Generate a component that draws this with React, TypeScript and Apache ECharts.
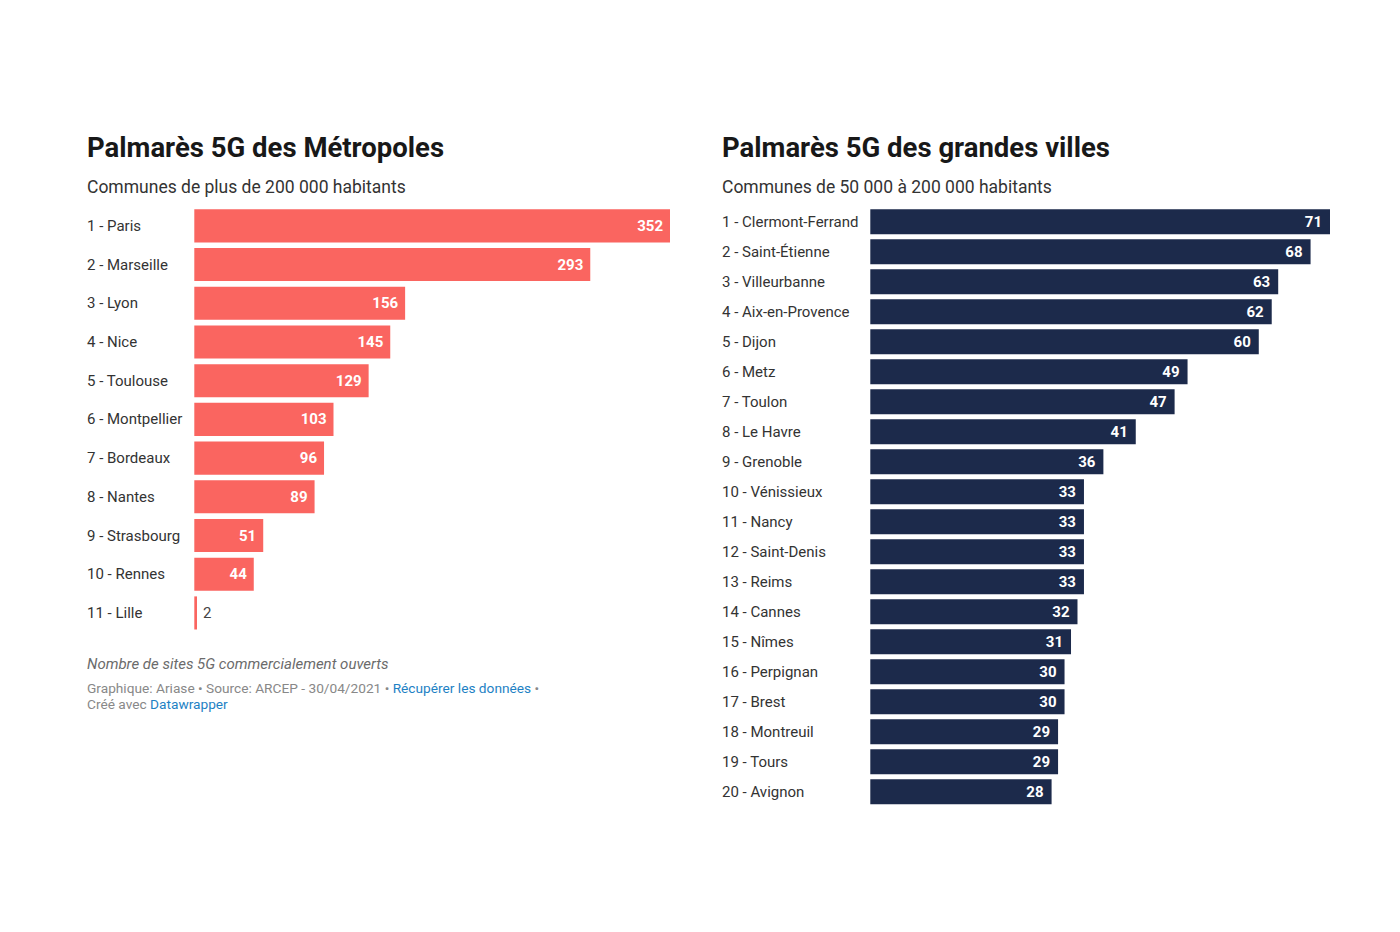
import React, { useEffect, useRef } from "react";
import * as echarts from "echarts";

const metroCities = ["1 - Paris", "2 - Marseille", "3 - Lyon", "4 - Nice", "5 - Toulouse", "6 - Montpellier", "7 - Bordeaux", "8 - Nantes", "9 - Strasbourg", "10 - Rennes", "11 - Lille"];
const metroValues = [352, 293, 156, 145, 129, 103, 96, 89, 51, 44, 2];

const villeCities = ["1 - Clermont-Ferrand", "2 - Saint-Étienne", "3 - Villeurbanne", "4 - Aix-en-Provence", "5 - Dijon", "6 - Metz", "7 - Toulon", "8 - Le Havre", "9 - Grenoble", "10 - Vénissieux", "11 - Nancy", "12 - Saint-Denis", "13 - Reims", "14 - Cannes", "15 - Nîmes", "16 - Perpignan", "17 - Brest", "18 - Montreuil", "19 - Tours", "20 - Avignon"];
const villeValues = [71, 68, 63, 62, 60, 49, 47, 41, 36, 33, 33, 33, 33, 32, 31, 30, 30, 29, 29, 28];

const FONT = "Roboto, 'Noto Sans', sans-serif";
const RED = "#fa6560";
const NAVY = "#1c2a4b";

function withLabels(values: number[], threshold: number) {
  return values.map((v) =>
    v < threshold
      ? { value: v, label: { position: "right", color: "#444", fontWeight: "normal", distance: 6 } }
      : { value: v }
  );
}

export default function App() {
  const ref = useRef<HTMLDivElement>(null);
  useEffect(() => {
    if (!ref.current) return;
    const chart = echarts.init(ref.current, null, { renderer: "svg" });
    const labelStyle = { fontFamily: FONT, fontSize: 15, color: "#333" };
    chart.setOption({
      animation: false,
      backgroundColor: "#fff",
      grid: [
        { left: 194.3, top: 206.5, width: 475.7, height: 425.8, containLabel: false },
        { left: 870.3, top: 206.8, width: 459.7, height: 600, containLabel: false },
      ],
      xAxis: [
        { gridIndex: 0, type: "value", min: 0, max: "dataMax", show: false },
        { gridIndex: 1, type: "value", min: 0, max: "dataMax", show: false },
      ],
      yAxis: [
        {
          gridIndex: 0, type: "category", data: metroCities, inverse: true,
          axisLine: { show: false }, axisTick: { show: false }, splitLine: { show: false },
          axisLabel: { ...labelStyle, align: "left", margin: 107.3 },
        },
        {
          gridIndex: 1, type: "category", data: villeCities, inverse: true,
          axisLine: { show: false }, axisTick: { show: false }, splitLine: { show: false },
          axisLabel: { ...labelStyle, align: "left", margin: 148.3 },
        },
      ],
      series: [
        {
          type: "bar", xAxisIndex: 0, yAxisIndex: 0, data: withLabels(metroValues, 10),
          barCategoryGap: "14.5%", itemStyle: { color: RED },
          label: { show: true, position: "insideRight", distance: 7, color: "#fff", fontFamily: FONT, fontSize: 15, fontWeight: "bold" },
        },
        {
          type: "bar", xAxisIndex: 1, yAxisIndex: 1, data: withLabels(villeValues, 3),
          barCategoryGap: "16.7%", itemStyle: { color: NAVY },
          label: { show: true, position: "insideRight", distance: 8, color: "#fff", fontFamily: FONT, fontSize: 15, fontWeight: "bold" },
        },
      ],
      graphic: [
        { type: "text", left: 87, top: 133, style: { text: "Palmarès 5G des Métropoles", font: `bold 27.5px ${FONT}`, fill: "#181818" } },
        { type: "text", left: 87, top: 177.5, style: { text: "Communes de plus de 200 000 habitants", font: `17.5px ${FONT}`, fill: "#333" } },
        { type: "text", left: 722, top: 133, style: { text: "Palmarès 5G des grandes villes", font: `bold 27.5px ${FONT}`, fill: "#181818" } },
        { type: "text", left: 722, top: 177.5, style: { text: "Communes de 50 000 à 200 000 habitants", font: `17.5px ${FONT}`, fill: "#333" } },
        { type: "text", left: 87, top: 656, style: { text: "Nombre de sites 5G commercialement ouverts", font: `italic 15px ${FONT}`, fill: "#6b6b6b" } },
        {
          type: "text", left: 87, top: 680,
          style: {
            text: "{g|Graphique: Ariase • Source: ARCEP - 30/04/2021 • }{b|Récupérer les données}{g| •}\n{g|Créé avec }{b|Datawrapper}",
            font: `13.7px ${FONT}`,
            lineHeight: 16,
            rich: {
              g: { fontFamily: FONT, fontSize: 13.7, fill: "#888", color: "#888", lineHeight: 16 },
              b: { fontFamily: FONT, fontSize: 13.7, fill: "#1d81c4", color: "#1d81c4", lineHeight: 16 },
            },
          },
        },
      ],
    });
    return () => chart.dispose();
  }, []);
  return <div ref={ref} style={{ position: "absolute", left: 0, top: 0, width: 1400, height: 932 }} />;
}
